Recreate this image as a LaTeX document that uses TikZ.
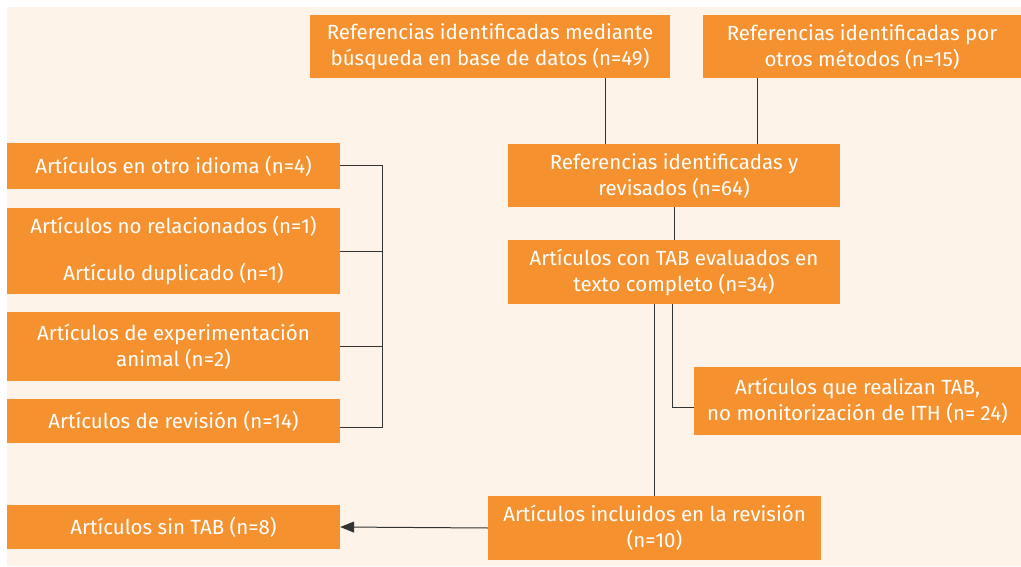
\documentclass[tikz,border=0pt]{standalone}
\usepackage{fontspec}
\setmainfont{Fira Sans}
\usetikzlibrary{arrows.meta}
\definecolor{fondo}{HTML}{FDF3E9}
\definecolor{naranja}{HTML}{F5922F}
\definecolor{linea}{HTML}{333333}
\newcommand*{\xLomo}{382}
\newcommand*{\anchoIzq}{333pt}

\begin{document}
\begin{tikzpicture}[x=1pt,y=-1pt,
    caja/.style={fill=naranja,text=white,align=center,inner sep=0pt,
        font=\fontsize{20.5}{26}\selectfont},
    union/.style={draw=linea,line width=1pt}]
    \useasboundingbox (0,0) rectangle (1021,567);
    \fill [fondo] (7,7) rectangle (1021,566);

    % flujo principal
    \node [caja,minimum width=360pt,minimum height=63pt] (busqueda) at (490,46.5)
        {Referencias identificadas mediante\\búsqueda en base de datos (n=49)};
    \node [caja,minimum width=318pt,minimum height=63pt] (otros) at (862,46.5)
        {Referencias identificadas por\\otros métodos (n=15)};
    \node [caja,minimum width=332pt,minimum height=63pt] (revisados) at (674,175.5)
        {Referencias identificadas y\\revisados (n=64)};
    \node [caja,minimum width=332pt,minimum height=64pt] (completo) at (674,272)
        {Artículos con TAB evaluados en\\texto completo (n=34)};
    \node [caja,minimum width=327pt,minimum height=68pt] (realizan) at (857.5,401)
        {Artículos que realizan TAB,\\no monitorización de ITH (n= 24)};
    \node [caja,minimum width=333pt,minimum height=64pt] (incluidos) at (654.5,528)
        {Artículos incluidos en la revisión\\(n=10)};
    \node [caja,minimum width=\anchoIzq,minimum height=44pt] (sintab) at (173.5,527)
        {Artículos sin TAB (n=8)};

    % excluidos
    \node [caja,minimum width=\anchoIzq,minimum height=46pt] (idioma) at (173.5,166)
        {Artículos en otro idioma (n=4)};
    \node [caja,minimum width=\anchoIzq,minimum height=86pt] (duplicado) at (173.5,251)
        {Artículos no relacionados (n=1)\\[21pt]Artículo duplicado (n=1)};
    \node [caja,minimum width=\anchoIzq,minimum height=69pt] (animal) at (173.5,346.5)
        {Artículos de experimentación\\animal (n=2)};
    \node [caja,minimum width=\anchoIzq,minimum height=44pt] (revision) at (173.5,421)
        {Artículos de revisión (n=14)};

    \draw [union] ([xshift=115pt]busqueda.south) -- ([xshift=115pt]busqueda.south |- revisados.north);
    \draw [union] ([xshift=-105pt]otros.south) -- ([xshift=-105pt]otros.south |- revisados.north);
    \draw [union] (revisados.south) -- (completo.north);
    \draw [union] ([xshift=-2pt]completo.south) |- ([yshift=-6pt]realizan.west);
    \draw [union] (incluidos.north |- completo.south) -- (incluidos.north);
    \draw [union,-{Triangle[length=14pt,width=11pt]}] (incluidos.west) -- (sintab.east);

    \coordinate (lomo) at (\xLomo,0);
    \draw [union] (idioma.east) -- (idioma.east -| lomo) -- ([yshift=-6pt]revision.east -| lomo)
        -- ([yshift=-6pt]revision.east);
    \draw [union] (duplicado.east) -- (duplicado.east -| lomo);
    \draw [union] (animal.east) -- (animal.east -| lomo);
\end{tikzpicture}
\end{document}
